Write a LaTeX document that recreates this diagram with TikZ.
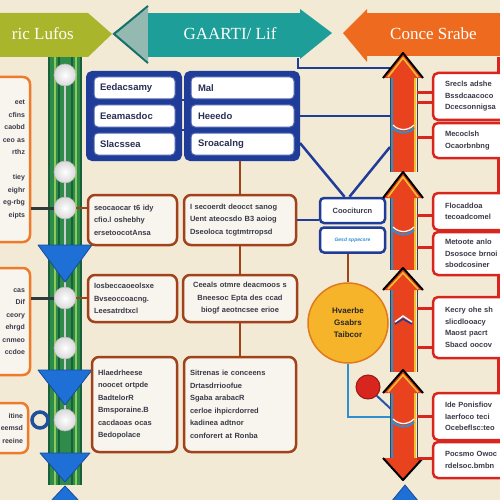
\documentclass[tikz,border=0pt]{standalone}
\usepackage{fontspec}
\setmainfont{Liberation Sans}
\newfontfamily\banfont{Liberation Serif}
\hyphenpenalty=10000
\exhyphenpenalty=10000
\definecolor{bg}{HTML}{F3EAD6}
\definecolor{olive}{HTML}{A9B52B}
\definecolor{teal1}{HTML}{1E9E98}
\definecolor{teal2}{HTML}{93B9B1}
\definecolor{orng}{HTML}{EE6A1E}
\definecolor{navy}{HTML}{1F3C99}
\definecolor{navytxt}{HTML}{2A2F55}
\definecolor{brn}{HTML}{A0421C}
\definecolor{boxw}{HTML}{F8F5EE}
\definecolor{lorng}{HTML}{EE7A2A}
\definecolor{rred}{HTML}{D8261E}
\definecolor{ared}{HTML}{E8421E}
\definecolor{ayel}{HTML}{F2C230}
\definecolor{rgreen}{HTML}{2E8B4A}
\definecolor{dkgreen}{HTML}{17603A}
\definecolor{ltgreen}{HTML}{8CCB5A}
\definecolor{tblue}{HTML}{1E6FD6}
\definecolor{lblue}{HTML}{2D8FD0}
\definecolor{gold}{HTML}{F6B42A}
\definecolor{goldedge}{HTML}{E07A1E}
\definecolor{txt}{HTML}{3A3A48}
\definecolor{dkgray}{HTML}{2F3B3A}
\newcommand\arrowUpHead[2]{%
  \fill[ared] (383,#2) -- (403,#1) -- (423,#2) -- cycle;
  \draw[ayel, line width=1.5pt] (388,#2-1) -- (403,#1+5) -- (418,#2-1);
  \draw[black, line width=2pt, line join=round] (383,#2) -- (403,#1) -- (423,#2);}
\newcommand\arrowBodySeg[2]{%
  \fill[ared] (391,#1) rectangle (416,#2);
  \draw[lblue, line width=1.3pt] (392,#1) -- (392,#2);
  \draw[ayel, line width=1.3pt] (415,#1) -- (415,#2);
  \draw[black!75, line width=0.7pt] (390,#1) -- (390,#2);
  \draw[black!75, line width=0.7pt] (417,#1) -- (417,#2);}
\newcommand\arrowWave[1]{%
  \draw[white, line width=1.2pt] (393,#1-3) .. controls (399,#1+3) and (408,#1+3) .. (414,#1-3);
  \draw[lblue, line width=2pt] (393,#1) .. controls (399,#1+6) and (408,#1+6) .. (414,#1);}
\begin{document}
\begin{tikzpicture}[x=1pt,y=-1pt,
  lbox/.style={draw=lorng, line width=2.5pt, fill=boxw, rounded corners=7pt, text=txt,
    font=\bfseries\fontsize{7}{12.5}\selectfont, align=right, inner sep=0pt},
  bframe/.style={draw=navy, fill=navy, line width=2pt, rounded corners=5pt, inner sep=0pt},
  bin/.style={draw=navy!80, line width=1pt, fill=white, rounded corners=4pt, text=navytxt,
    font=\bfseries\fontsize{9.5}{11}\selectfont, align=left, inner sep=0pt},
  brbox/.style={draw=brn, line width=2.5pt, fill=boxw, rounded corners=7pt, text=txt,
    font=\bfseries\fontsize{7.5}{12.5}\selectfont, align=left, inner sep=0pt},
  sbox/.style={draw=navy, line width=2.5pt, fill=white, rounded corners=4pt, inner sep=0pt,
    minimum width=65, minimum height=25},
  rbox/.style={draw=rred, line width=2.5pt, fill=white, rounded corners=5pt, text=txt,
    font=\bfseries\fontsize{7.5}{11.5}\selectfont, align=left, inner sep=0pt,
    minimum width=82, text width=58},
  ballnode/.style={circle, minimum size=22, inner sep=0pt, draw=gray!55, line width=0.6pt,
    shading=radial, inner color=white, outer color=gray!30},
  bline/.style={draw=navy, line width=2.5pt},
  brline/.style={draw=brn, line width=2.5pt},
  rline/.style={draw=rred, line width=3pt},
  dline/.style={draw=dkgray, line width=3pt},
  lbline/.style={draw=lblue, line width=2.5pt},
  banner/.style={text=white, font=\banfont\fontsize{17}{17}\selectfont, inner sep=0pt},
  tri/.style={fill=tblue, draw=tblue!70!black, line width=0.8pt, line join=round}]
\useasboundingbox (0,0) rectangle (500,500);
\clip (0,0) rectangle (500,500);
\fill[bg] (0,0) rectangle (500,500);

% ---------- banners ----------
\fill[olive] (0,13) -- (88,13) -- (112,34) -- (88,57) -- (0,57) -- cycle;
\fill[teal2] (113,33) -- (148,8) -- (148,61) -- cycle;
\draw[teal1!70!black, line width=2pt] (148,6) -- (114,34) -- (148,63);
\fill[teal1] (148,13) rectangle (301,57);
\fill[teal1] (300,9) -- (332,33) -- (300,59) -- cycle;
\fill[orng] (367,9) -- (343,33) -- (367,62) -- cycle;
\fill[orng] (366,13) rectangle (500,56);
\node[banner, anchor=east] (bn1) at (74,34) {ric Lufos};
\node[banner] (bn2) at (230,34) {GAARTI/ Lif};
\node[banner, anchor=west] (bn3) at (390,34) {Conce Srabe};

% ---------- left rail ----------
\node[fill=rgreen, minimum width=34, minimum height=428, inner sep=0pt] (rail) at (65,271) {};
\draw[dkgreen, line width=2pt] (49,57) -- (49,485);
\draw[ltgreen, line width=1.5pt] (55,57) -- (55,485);
\draw[dkgreen, line width=2pt] (59,57) -- (59,485);
\draw[dkgreen, line width=2pt] (72,57) -- (72,485);
\draw[ltgreen, line width=1.2pt] (76,57) -- (76,485);
\draw[dkgreen, line width=2pt] (81,57) -- (81,485);
\draw[gray!40, line width=1.6pt] (65,75) -- (65,420);

% ---------- left orange boxes ----------
\node[lbox, minimum width=44, minimum height=165, text width=34] (lb1) at (8,159.5)
  {eet\\cfins\\caobd\\ceo as\\rthz\\[12.5pt]tiey\\eighr\\eg-rbg\\eipts};
\node[lbox, minimum width=44, minimum height=107, text width=34] (lb2) at (8,321.5)
  {cas\\Dif\\ceory\\ehrgd\\cnmeo\\ccdoe};
\node[lbox, minimum width=42, minimum height=50, text width=32] (lb3) at (7,428)
  {itine\\eemsd\\reeine};

% ---------- balls ----------
\node[ballnode] (b1) at (65,75) {};
\node[ballnode] (b2) at (65,172) {};
\node[ballnode] (b3) at (65,208) {};
\node[ballnode] (b4) at (65,298) {};
\node[ballnode] (b5) at (65,348) {};
\node[ballnode] (b6) at (65,420) {};
\draw[dline] (lb1.east |- b3) -- (b3.west);
\draw[dline] (lb2.east |- b4) -- (b4.west);
\draw[navy!80!teal1, line width=3.5pt] (40,420) circle (8);

% ---------- blue triangles ----------
\draw[tri] (38,245) -- (92,245) -- (65,282) -- cycle;
\draw[tri] (38,370) -- (92,370) -- (65,405) -- cycle;
\draw[tri] (40,453) -- (90,453) -- (65,482) -- cycle;
\draw[tri] (65,486) -- (50,502) -- (80,502) -- cycle;

% ---------- blue groups ----------
\node[bframe, minimum width=94, minimum height=88] (g1) at (134,116) {};
\node[bframe, minimum width=114, minimum height=88] (g2) at (242,116) {};
\coordinate (y100) at (0,100);
\coordinate (y130) at (0,130);
\draw[bline] (g1.east |- y100) -- (g2.west |- y100);
\draw[bline] (g1.east |- y130) -- (g2.west |- y130);
\node[bin, minimum width=81, minimum height=22, text width=69] (g1a) at (134.5,88) {Eedacsamy};
\node[bin, minimum width=81, minimum height=22, text width=69] (g1b) at (134.5,116) {Eeamasdoc};
\node[bin, minimum width=81, minimum height=22, text width=69] (g1c) at (134.5,144) {Slacssea};
\node[bin, minimum width=103, minimum height=22, text width=89] (g2a) at (242.5,88) {Mal};
\node[bin, minimum width=103, minimum height=22, text width=89] (g2b) at (242.5,116) {Heeedo};
\node[bin, minimum width=103, minimum height=22, text width=89] (g2c) at (242.5,144) {Sroacalng};

% ---------- brown boxes ----------
\node[brbox, minimum width=89, minimum height=50, text width=77] (br1l) at (132.5,220)
  {seocaocar t6 idy\\cfio.l oshebhy\\ersetoocotAnsa};
\node[brbox, minimum width=112, minimum height=50, text width=100] (br1r) at (240,220)
  {I secoerdt deocct sanog\\Uent ateocsdo B3 aoiog\\Dseoloca tcgtmtrropsd};
\node[brbox, minimum width=89, minimum height=47, text width=77] (br2l) at (132.5,298.5)
  {Iosbeccaoeolsxe\\Bvseoccoacng.\\Leesatrdtxcl};
\node[brbox, minimum width=114, minimum height=47, text width=102, align=center] (br2r) at (240,298.5)
  {Ceeals otmre deacmoos s\\Bneesoc Epta des ccad\\biogf aeotncsee erioe};
\node[brbox, minimum width=85, minimum height=95, text width=73] (br3l) at (134.5,404.5)
  {Hlaedrheese\\noocet ortpde\\BadtelorR\\Bmsporaine.B\\cacdaoas ocas\\Bedopolace};
\node[brbox, minimum width=112, minimum height=95, text width=100] (br3r) at (240,404.5)
  {Sitrenas ie conceens\\Drtasdrrioofue\\Sgaba arabacR\\cerloe ihpicrdorred\\kadinea adtnor\\conforert at Ronba};
\draw[brline] (g2.south -| br1r.north) -- (br1r.north);
\draw[brline] (br1r.south) -- (br2r.north);
\draw[brline] (br2r.south) -- (br3r.north);
\draw[brline] (b3.east) -- (br1l.west |- b3);
\draw[brline] (b4.east) -- (br2l.west |- b4);

% ---------- small blue boxes ----------
\node[sbox, text=txt, font=\bfseries\fontsize{7.5}{9}\selectfont] (sb1) at (352.5,210.5) {Coociturcn};
\node[sbox, text=lblue, font=\bfseries\itshape\fontsize{5}{6}\selectfont] (sb2) at (352.5,240) {Gesd sppecsre};

% ---------- blue connectors ----------
\coordinate (acolL) at (390,0);
\coordinate (c1) at (298,58);
\coordinate (c2) at (298,68);
\coordinate (c3) at (390,68);
\draw[bline] (c1) -- (c2) -- (c3);
\draw[bline] (g2.east |- g2b) -- (g2b -| acolL);
\coordinate (d1) at (300,143);
\coordinate (d2) at (390,147);
\draw[bline] (d1) -- ([xshift=-8pt]sb1.north);
\draw[bline] (d2) -- ([xshift=-3pt]sb1.north);
\draw[bline] (br1r.east) -- (br1r.east -| sb1.west);

% ---------- circle ----------
\node[circle, fill=gold, draw=goldedge, line width=1.5pt, minimum size=80, inner sep=0pt,
  text=black!85, font=\bfseries\fontsize{8}{12}\selectfont, align=center] (circ) at (348,323)
  {Hvaerbe\\Gsabrs\\Taibcor};
\draw[brline] (sb2.south -| circ.north) -- (circ.north);
\coordinate (bl1) at (348,417);
\coordinate (bl2) at (390,417);
\draw[lbline] (circ.south) -- (bl1) -- (bl2);
\node[circle, fill=rred, draw=rred!70!black, line width=1pt, minimum size=24, inner sep=0pt] (rc) at (368,387) {};
\coordinate (bl3) at (392,410);
\draw[draw=navy!70!lblue, line width=2pt] (rc.south east) -- (bl3);

% ---------- arrow column ----------
\arrowBodySeg{78}{172}
\arrowUpHead{53}{78}
\arrowWave{128}
\arrowBodySeg{198}{270}
\arrowUpHead{172}{198}
\arrowWave{230}
\arrowBodySeg{290}{372}
\arrowUpHead{268}{290}
\draw[white, line width=1.5pt] (395,322) -- (403,316) -- (412,322);
\draw[navy, line width=1.5pt] (395,324) -- (403,319) -- (412,324);
\arrowBodySeg{393}{460}
\arrowUpHead{370}{393}
\arrowWave{422}
\fill[ared] (383,458) -- (403,480) -- (423,458) -- cycle;
\draw[black, line width=2pt, line join=round] (383,458) -- (403,480) -- (423,458);
\draw[tri] (405,485) -- (391,502) -- (419,502) -- cycle;

% ---------- right red boxes ----------
\node[rbox, minimum height=47] (rb1) at (474,96.5) {Srecls adshe\\Bssdcaacoco\\Dcecsonnigsa};
\node[rbox, minimum height=35] (rb2) at (474,140.5) {Mecoclsh\\Ocaorbnbng};
\node[rbox, minimum height=37] (rb3) at (474,211.5) {Flocaddoa\\tecoadcomel};
\node[rbox, minimum height=43] (rb4) at (474,253.5) {Metoote anlo\\Dsosoce brnoi\\sbodcosiner};
\node[rbox, minimum height=61] (rb5) at (474,327.5) {Kecry ohe sh\\slicdlooacy\\Maost pacrt\\Sbacd oocov};
\node[rbox, minimum height=47] (rb6) at (474,416.5) {Ide Ponisfiov\\Iaerfoco teci\\Ocebeflsc:teo};
\node[rbox, minimum height=36] (rb7) at (474,460) {Pocsmo Owoc\\rdelsoc.bmbn};
\coordinate (rx) at (498,0);
\coordinate (rtop) at (498,57);
\coordinate (acolR) at (417,0);
\draw[rline] (rtop) -- (rb1.north -| rx);
\draw[rline] (rb2.south -| rx) -- (rb3.north -| rx);
\draw[rline] (rb4.south -| rx) -- (rb5.north -| rx);
\draw[rline] (rb5.south -| rx) -- (rb6.north -| rx);
\coordinate (t1) at ([yshift=3.5pt]rb1.west);
\coordinate (t2) at ([yshift=-6.5pt]rb1.west);
\coordinate (t3) at ([yshift=3.5pt]rb2.west);
\coordinate (t4) at ([yshift=-3.5pt]rb3.west);
\coordinate (t5) at ([yshift=6.5pt]rb4.west);
\coordinate (t6) at ([yshift=19.5pt]rb5.west);
\coordinate (t7) at ([yshift=-19.5pt]rb5.west);
\coordinate (t8) at (rb6.west);
\coordinate (t9) at ([yshift=2pt]rb7.west);
\foreach \t in {t1,t2,t3,t4,t5,t6,t7,t8,t9} {\draw[rline] (\t) -- (\t -| acolR);}
\end{tikzpicture}
\end{document}
